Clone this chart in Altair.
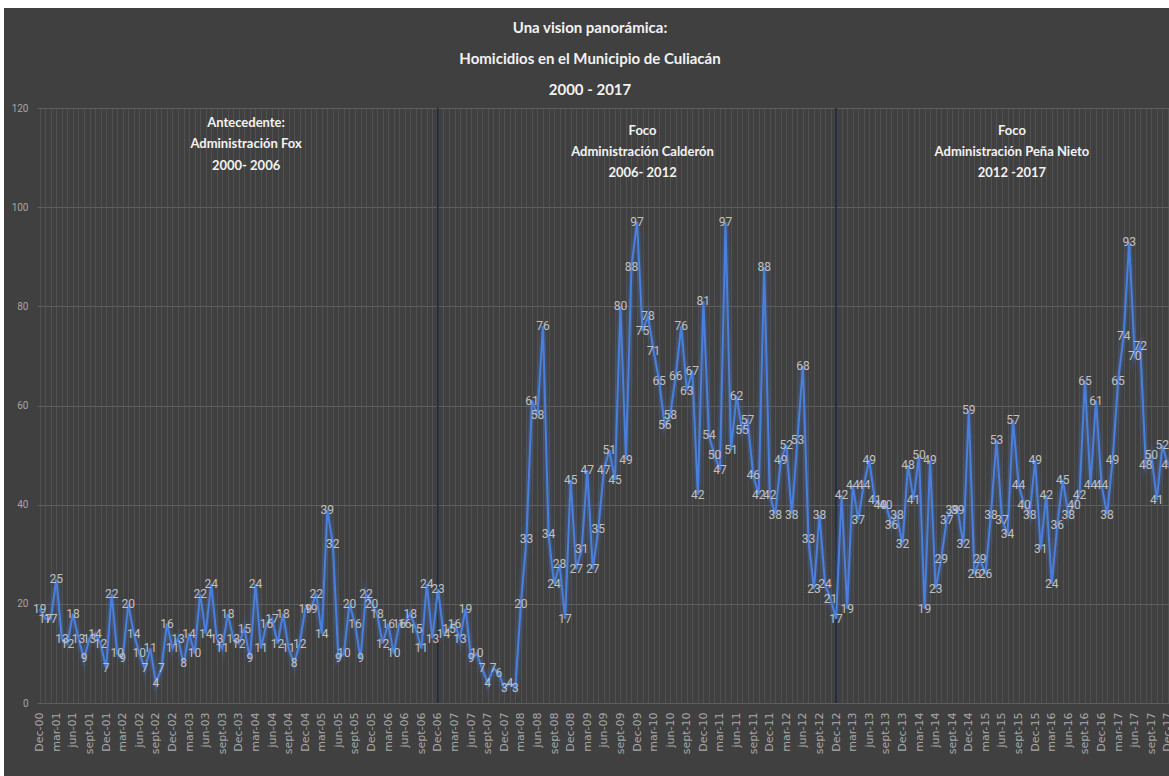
import json
import altair as alt
import pandas as pd

# Monthly homicides, Culiacán (Dec-2000 .. Dec-2017)
homicidios_fox = [19, 17, 17, 25, 13, 12, 18, 13, 9, 13, 14, 12, 7, 22, 10, 9, 20, 14,
                  10, 7, 11, 4, 7, 16, 11, 13, 8, 14, 10, 22, 14, 24, 13, 11, 18, 13,
                  12, 15, 9, 24, 11, 16, 17, 12, 18, 11, 8, 12, 19, 19, 22, 14, 39, 32,
                  9, 10, 20, 16, 9, 22, 20, 18, 12, 16, 10, 16, 16, 18, 15, 11, 24, 13]
homicidios_calderon = [23, 14, 15, 16, 13, 19, 9, 10, 7, 4, 7, 6, 3, 4, 3, 20, 33, 61,
                       58, 76, 34, 24, 28, 17, 45, 27, 31, 47, 27, 35, 47, 51, 45, 80, 49, 88,
                       97, 75, 78, 71, 65, 56, 58, 66, 76, 63, 67, 42, 81, 54, 50, 47, 97, 51,
                       62, 55, 57, 46, 42, 88, 42, 38, 49, 52, 38, 53, 68, 33, 23, 38, 24, 21]
homicidios_pena_nieto = [17, 42, 19, 44, 37, 44, 49, 41, 40, 40, 36, 38, 32, 48, 41, 50, 19, 49,
                         23, 29, 37, 39, 39, 32, 59, 26, 29, 26, 38, 53, 37, 34, 57, 44, 40, 38,
                         49, 31, 42, 24, 36, 45, 38, 40, 42, 65, 44, 61, 44, 38, 49, 65, 74, 93,
                         70, 72, 48, 50, 41, 52, 48]

# tick labels every three months: Dec-00, mar-01, jun-01, sept-01, Dec-01, ...
nombres_mes = ["Dec", "mar", "jun", "sept"]
etiquetas_x = [f"{nombres_mes[k % 4]}-{(k + 3) // 4:02d}" for k in range(69)]

# vertical separators (month index of Dec-06 and Dec-12)
separadores = [72, 144]

titulo = ["Una vision panorámica:", "Homicidios en el Municipio de Culiacán", "2000 - 2017"]

anot_texto = ["Antecedente:", "Administración Fox", "2000- 2006",
              "Foco", "Administración Calderón", "2006- 2012",
              "Foco", "Administración Peña Nieto", "2012 -2017"]
anot_mes = [37.3, 37.3, 37.3, 109.0, 109.0, 109.0, 175.8, 175.8, 175.8]
anot_y = [117.0, 112.7, 108.3, 115.4, 111.1, 106.9, 115.4, 111.1, 106.9]

valores = homicidios_fox + homicidios_calderon + homicidios_pena_nieto
df = pd.DataFrame({"mes": list(range(len(valores))), "homicidios": valores})
df_sep = pd.DataFrame({"mes": separadores})
df_anot = pd.DataFrame({"mes": anot_mes, "homicidios": anot_y, "texto": anot_texto})

TFONT = "Lato, Roboto, sans-serif"
LFONT = "Roboto, Lato, sans-serif"
BG = "#404040"

W, H = 1132, 595
label_expr = f"datum.value % 3 === 0 ? {json.dumps(etiquetas_x)}[datum.value / 3] : ''"

x_enc = alt.X(
    "mes:Q",
    scale=alt.Scale(domain=[-0.5, 204.2], nice=False, zero=False),
    axis=alt.Axis(
        values=list(range(0, 205)), labelExpr=label_expr, labelAngle=-90,
        labelFontSize=11, labelColor="#a8a8a8", labelFont="DejaVu Sans",
        labelPadding=9, labelOverlap=False, labelBound=False, labelFlush=False,
        ticks=False, domain=False, grid=True, gridColor="#505050", gridWidth=1,
        title=None,
    ),
)
y_enc = alt.Y(
    "homicidios:Q",
    scale=alt.Scale(domain=[0, 120], nice=False),
    axis=alt.Axis(
        values=[0, 20, 40, 60, 80, 100, 120], labelFontSize=10, labelColor="#a6a6a6",
        labelFont=LFONT, labelPadding=9, ticks=False, domain=False,
        grid=True, gridColor="#5e5e5e", gridWidth=1.2, title=None,
    ),
)

base = alt.Chart(df)

strip = alt.Chart(pd.DataFrame({"a": [0, 1]})).mark_rect(color="white")
top_strip = strip.encode(x=alt.value(-37), x2=alt.value(W), y=alt.value(-108), y2=alt.value(-100))
left_strip = strip.encode(x=alt.value(-37), x2=alt.value(-33), y=alt.value(-108), y2=alt.value(H + 73))

seps = alt.Chart(df_sep).mark_rule(color="#1d2840", strokeWidth=1.6).encode(x=x_enc)

glow1 = base.mark_line(color="#4472c4", strokeWidth=9, opacity=0.10).encode(x=x_enc, y=y_enc)
glow2 = base.mark_line(color="#4a7bd0", strokeWidth=5, opacity=0.22).encode(x=x_enc, y=y_enc)
line = base.mark_line(color="#4a7fdc", strokeWidth=2).encode(x=x_enc, y=y_enc)

labels = base.mark_text(
    font=LFONT, fontSize=12, color="#c0c0c0", align="center", baseline="middle"
).encode(x=x_enc, y=y_enc, text="homicidios:Q")

anot = alt.Chart(df_anot).mark_text(
    font=TFONT, fontSize=13, fontWeight="bold", color="#f2f2f2", align="center", baseline="middle"
).encode(x=x_enc, y=y_enc, text="texto:N")

title_layers = []
for i, t in enumerate(titulo):
    title_layers.append(
        alt.Chart(pd.DataFrame({"a": [0]})).mark_text(
            font=TFONT, fontSize=15, fontWeight="bold", color="#f2f2f2",
            align="center", baseline="middle"
        ).encode(x=alt.value(553), y=alt.value(-80 + 31 * i), text=alt.value(t))
    )

chart = alt.layer(
    top_strip, left_strip, seps, glow1, glow2, line, labels, anot, *title_layers
).properties(
    width=W, height=H,
    autosize=alt.AutoSizeParams(type="none"),
    padding={"left": 37, "top": 108, "right": 0, "bottom": 73},
    background=BG,
).configure_view(stroke=None)

chart.save("out.html", embed_options={"renderer": "svg", "actions": False})
